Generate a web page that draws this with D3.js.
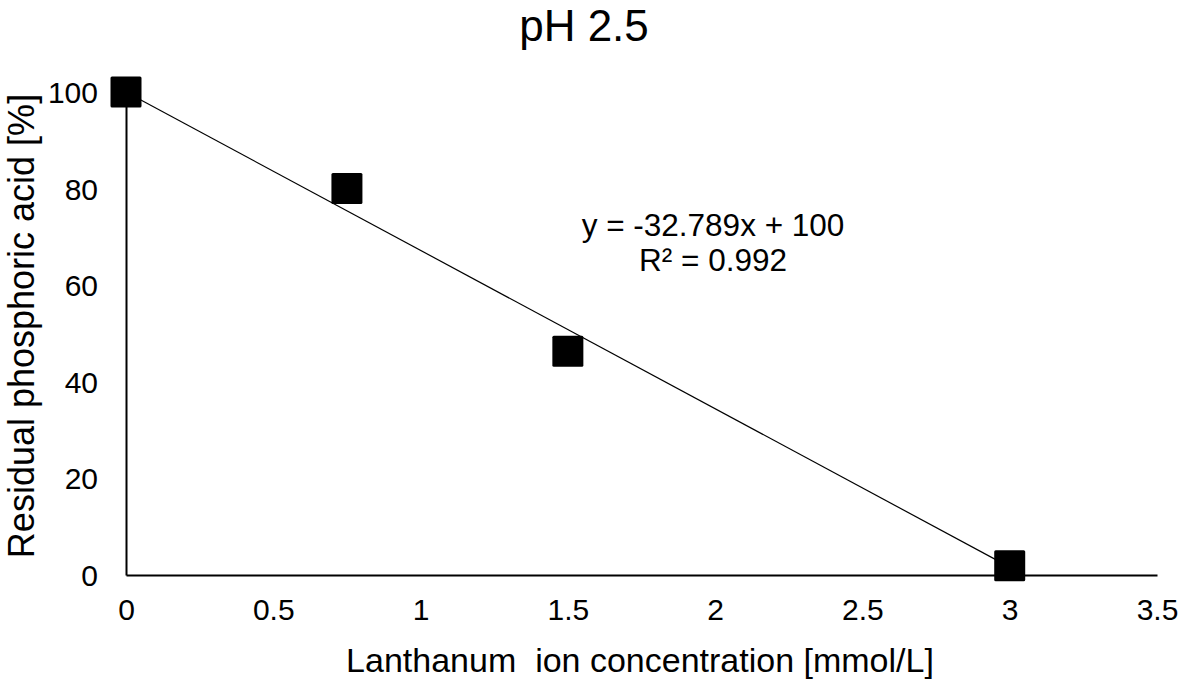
<!DOCTYPE html>
<html><head><meta charset="utf-8">
<script src="https://cdn.jsdelivr.net/npm/d3@7"></script>
<style>body{margin:0;background:#fff}svg{display:block}text{font-family:"Liberation Sans",Arial,sans-serif;fill:#000}</style>
</head><body><svg id="c" width="1180" height="685"></svg>
<script>
const xValues = [0, 0.75, 1.5, 3];
const yValues = [100, 80, 46.3, 1.9];
const xTicks = [0, 0.5, 1, 1.5, 2, 2.5, 3, 3.5];
const yTicks = [0, 20, 40, 60, 80, 100];
const slope = -32.789, intercept = 100;
const title = "pH 2.5";
const xTitle = "Lanthanum\u00a0 ion concentration [mmol/L]";
const yTitle = "Residual phosphoric acid [%]";
const eqText = ["y = -32.789x + 100", "R\u00b2 = 0.992"];

const svg = d3.select("#c");
const x = d3.scaleLinear().domain([0, 3.5]).range([126, 1157]);
const y = d3.scaleLinear().domain([0, 100]).range([575, 92]);

// axes
const xa = svg.append("g").attr("transform", `translate(0,${y(0)})`)
  .call(d3.axisBottom(x).tickValues(xTicks).tickSize(0).tickPadding(24).tickFormat(d3.format("")));
const ya = svg.append("g").attr("transform", `translate(${x(0)},0)`)
  .call(d3.axisLeft(y).tickValues(yTicks).tickSize(0).tickPadding(28).tickFormat(d3.format("")));
[xa, ya].forEach(a => {
  a.select(".domain").attr("stroke", "#000").attr("stroke-width", 2);
  a.selectAll("text").attr("font-size", 30).attr("font-family", "Liberation Sans, Arial, sans-serif").attr("fill", "#000");
});
xa.selectAll("text").attr("dy", "0.71em");
ya.selectAll("text").attr("dy", "0.35em");

// trend line
svg.append("line")
  .attr("x1", x(0)).attr("y1", y(intercept))
  .attr("x2", x(3)).attr("y2", y(slope * 3 + intercept))
  .attr("stroke", "#000").attr("stroke-width", 1.2);

// markers
const s = 31;
svg.selectAll("rect.pt").data(xValues.map((v, i) => [v, yValues[i]])).join("rect")
  .attr("class", "pt")
  .attr("x", d => x(d[0]) - s / 2).attr("y", d => y(d[1]) - s / 2)
  .attr("width", s).attr("height", s).attr("rx", 1.5).attr("fill", "#000");

// titles
svg.append("text").attr("x", 584).attr("y", 41).attr("text-anchor", "middle").attr("font-size", 44).text(title);
svg.append("text").attr("x", 640).attr("y", 672).attr("text-anchor", "middle").attr("font-size", 34).text(xTitle);
svg.append("text").attr("transform", "translate(34,326) rotate(-90)").attr("text-anchor", "middle").attr("font-size", 36).text(yTitle);

// equation
svg.append("text").attr("x", 713).attr("y", 236).attr("text-anchor", "middle").attr("font-size", 31.5).text(eqText[0]);
svg.append("text").attr("x", 713).attr("y", 271).attr("text-anchor", "middle").attr("font-size", 31.5).text(eqText[1]);
</script></body></html>
